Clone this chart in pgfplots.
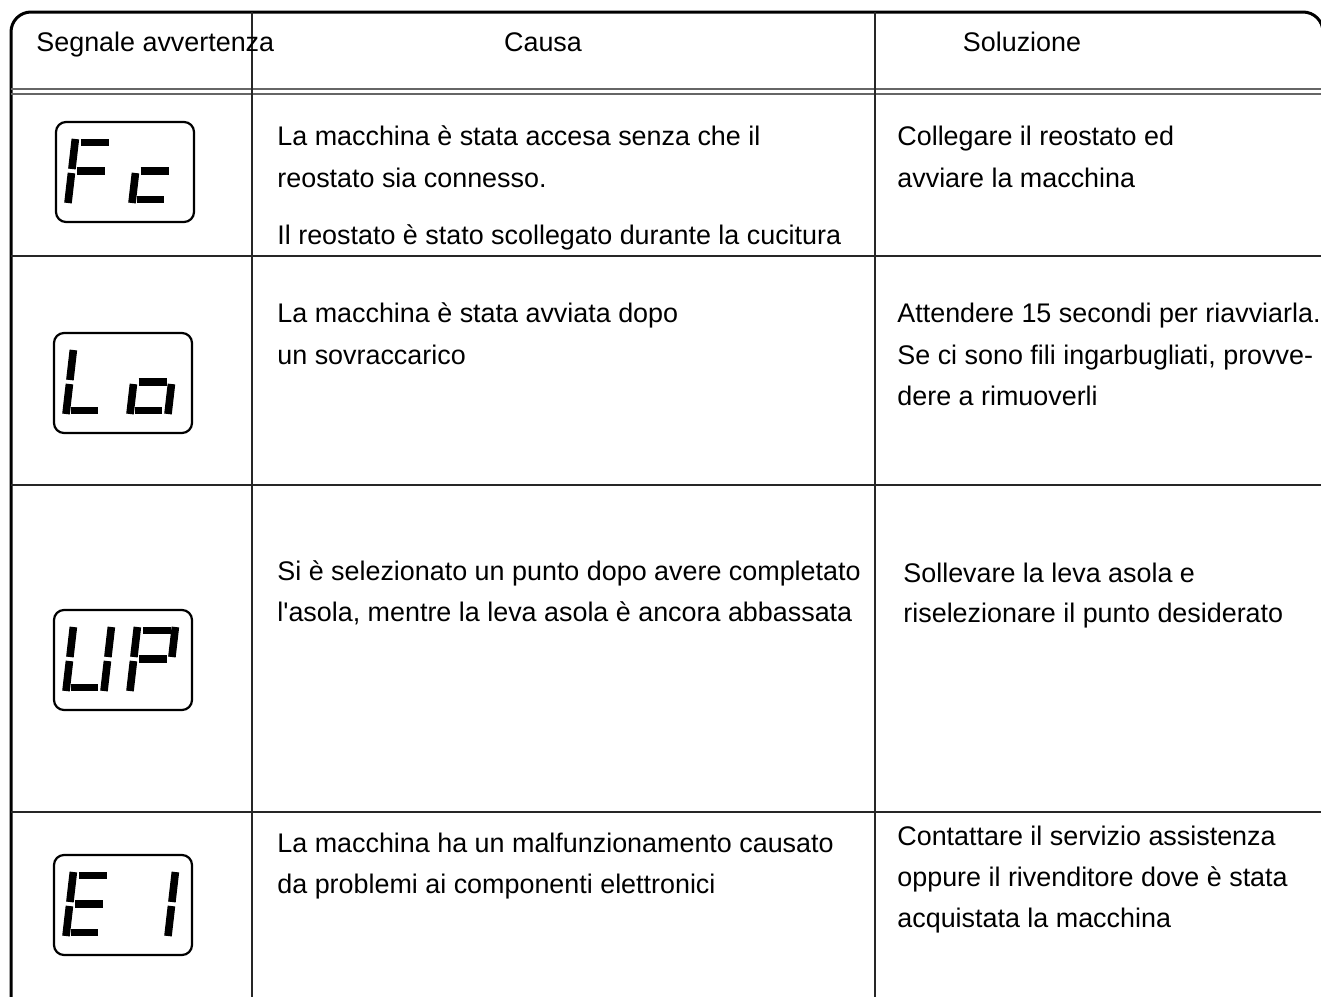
\documentclass[border=0pt]{standalone}
\usepackage{pgfplots}
\pgfplotsset{compat=1.18}
\usepackage{fontspec}
\setmainfont{Liberation Sans}
\newfontfamily\lib{Liberation Sans}
\newcommand\txt{\lib\fontsize{13.45}{16}\selectfont}
\def\segsl{0.115}
\tikzset{seg/.style={line width=3.8pt,line cap=butt},
  t/.style={anchor=base west,font=\txt,inner sep=0pt}}
\newcommand\SA[2]{\draw[seg] ({#1+6+\segsl*60.5},{#2-60.5}) -- ({#1+34+\segsl*60.5},{#2-60.5});}
\newcommand\SB[2]{\draw[seg] ({#1+38+\segsl*64},{#2-64}) -- ({#1+38+\segsl*34},{#2-34});}
\newcommand\SC[2]{\draw[seg] ({#1+38+\segsl*30},{#2-30}) -- ({#1+38},{#2});}
\newcommand\SD[2]{\draw[seg] ({#1+5+\segsl*3.5},{#2-3.5}) -- ({#1+32+\segsl*3.5},{#2-3.5});}
\newcommand\SE[2]{\draw[seg] ({#1},{#2}) -- ({#1+\segsl*30},{#2-30});}
\newcommand\SF[2]{\draw[seg] ({#1+\segsl*34},{#2-34}) -- ({#1+\segsl*64},{#2-64});}
\newcommand\SG[2]{\draw[seg] ({#1+5+\segsl*32},{#2-32}) -- ({#1+33+\segsl*32},{#2-32});}
\newcommand\dispbox[2]{\draw[line width=1.1pt,rounded corners=5pt] (#1,#2) rectangle ({#1+138},{#2+100});}
\begin{document}
\begin{tikzpicture}
\begin{axis}[width=660.5pt,height=498pt,scale only axis,
  xmin=0,xmax=1321,ymin=0,ymax=996,y dir=reverse,
  hide axis,clip=false]
% outer border
\draw[line width=1.5pt,rounded corners=10pt] (11,1010) -- (11,12) -- (1323,12) -- (1323,1010);
% double line under header
\addplot[gray!80!black,line width=0.7pt] coordinates {(11,89) (1323,89)};
\addplot[gray!80!black,line width=0.7pt] coordinates {(11,94) (1323,94)};
% row separators
\addplot[black!85,line width=0.9pt] coordinates {(11,256) (1323,256)};
\addplot[black!85,line width=0.9pt] coordinates {(11,485) (1323,485)};
\addplot[black!85,line width=0.9pt] coordinates {(11,812) (1323,812)};
% column lines
\addplot[black!85,line width=0.9pt] coordinates {(252,12) (252,1010)};
\addplot[black!85,line width=0.9pt] coordinates {(875,12) (875,1010)};
% header
\node[t] at (36,51) {Segnale avvertenza};
\node[anchor=base,font=\txt,inner sep=0pt] at (543,51) {Causa};
\node[anchor=base,font=\txt,inner sep=0pt] at (1022,51) {Soluzione};
% row 1
\node[t] at (277,145) {La macchina è stata accesa senza che il};
\node[t] at (277,187) {reostato sia connesso.};
\node[t] at (277,244) {Il reostato è stato scollegato durante la cucitura};
\node[t] at (897,145) {Collegare il reostato ed};
\node[t] at (897,187) {avviare la macchina};
% row 2
\node[t] at (277,322) {La macchina è stata avviata dopo};
\node[t] at (277,364) {un sovraccarico};
\node[t] at (897,322) {Attendere 15 secondi per riavviarla.};
\node[t] at (897,364) {Se ci sono fili ingarbugliati, provve-};
\node[t] at (897,405) {dere a rimuoverli};
% row 3
\node[t] at (277,580) {Si è selezionato un punto dopo avere completato};
\node[t] at (277,621) {l'asola, mentre la leva asola è ancora abbassata};
\node[t] at (903,582) {Sollevare la leva asola e};
\node[t] at (903,622) {riselezionare il punto desiderato};
% row 4
\node[t] at (277,852) {La macchina ha un malfunzionamento causato};
\node[t] at (277,893) {da problemi ai componenti elettronici};
\node[t] at (897,845) {Contattare il servizio assistenza};
\node[t] at (897,886) {oppure il rivenditore dove è stata};
\node[t] at (897,927) {acquistata la macchina};
% displays
\dispbox{56}{122}
\SA{68}{203}\SE{68}{203}\SF{68}{203}\SG{68}{203}
\SD{132}{203}\SE{132}{203}\SG{132}{203}
\dispbox{54}{333}
\SD{66}{414}\SE{66}{414}\SF{66}{414}
\SC{130}{414}\SD{130}{414}\SE{130}{414}\SG{130}{414}
\dispbox{54}{610}
\SB{66}{691}\SC{66}{691}\SD{66}{691}\SE{66}{691}\SF{66}{691}
\SA{130}{691}\SB{130}{691}\SE{130}{691}\SF{130}{691}\SG{130}{691}
\dispbox{54}{855}
\SA{66}{936}\SD{66}{936}\SE{66}{936}\SF{66}{936}\SG{66}{936}
\SB{130}{936}\SC{130}{936}
\end{axis}
\pgfresetboundingbox
\useasboundingbox (current axis.south west) rectangle (current axis.north east);
\end{tikzpicture}
\end{document}
